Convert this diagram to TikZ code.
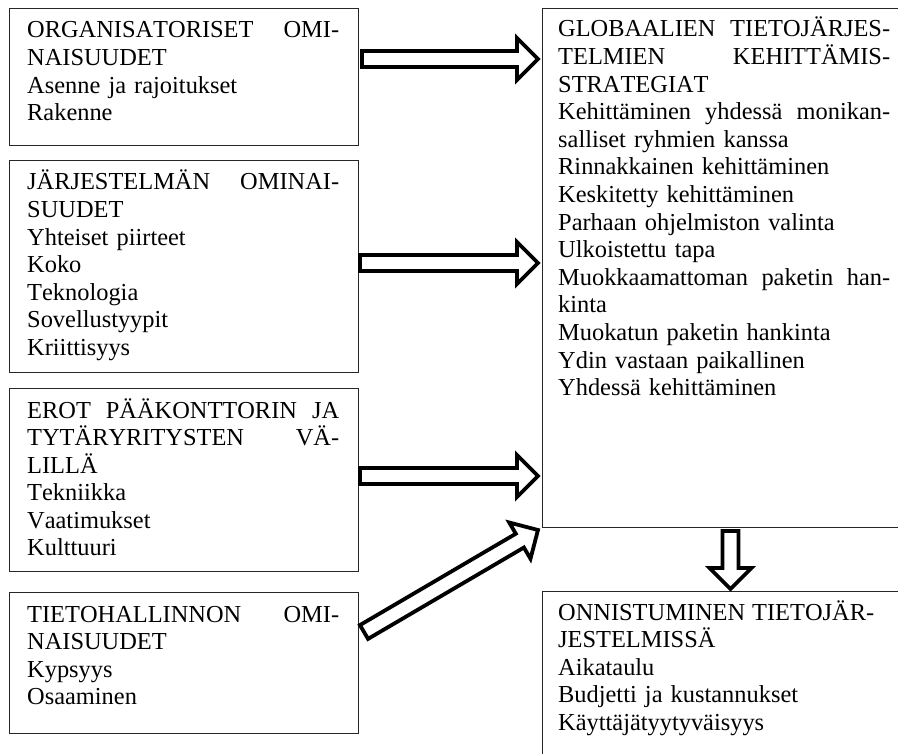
\documentclass[tikz,border=0pt]{standalone}
\usepackage{fontspec}
\setmainfont{Liberation Serif}[Kerning=Off]
\usetikzlibrary{calc}

% a line of text spread over the given column width (words split by \hfill)
\newcommand\jline[2][312pt]{\leavevmode\hbox to #1{#2}}

\tikzset{
  frame/.style={draw=black!85, line width=1pt, inner sep=0pt, anchor=north west},
  txt/.style={inner sep=0pt, anchor=base west, align=left,
              font=\fontsize{24.4}{27.6}\selectfont},
  fat/.style={draw=black, fill=white, line width=3.8pt, line join=miter},
}

% outlined block arrow from #1 to #2 (shaft half width 8, head 21 x 21)
\newcommand\fatarrow[2]{%
  \draw[fat] let \p1=(#1), \p2=(#2),
      \n1={atan2(\y2-\y1,\x2-\x1)}, \n2={veclen(\x2-\x1,\y2-\y1)} in
    ([shift={(\p1)},rotate=\n1]0pt,8pt)
    -- ([shift={(\p1)},rotate=\n1]\n2*1pt-21pt,8pt)
    -- ([shift={(\p1)},rotate=\n1]\n2*1pt-21pt,21pt)
    -- ([shift={(\p1)},rotate=\n1]\n2*1pt,0pt)
    -- ([shift={(\p1)},rotate=\n1]\n2*1pt-21pt,-21pt)
    -- ([shift={(\p1)},rotate=\n1]\n2*1pt-21pt,-8pt)
    -- ([shift={(\p1)},rotate=\n1]0pt,-8pt)
    -- cycle;}

\begin{document}
\begin{tikzpicture}[x=1pt,y=1pt]
\useasboundingbox (0,0) rectangle (898,-754);
\clip (0,0) rectangle (898,-754);
\fill[white] (0,0) rectangle (898,-754);

% left column of factor boxes
\node[frame, minimum width=349pt, minimum height=137pt] (org) at (9,-8) {};
\node[frame, minimum width=349pt, minimum height=212pt] (sys) at (9,-160) {};
\node[frame, minimum width=349pt, minimum height=183pt] (diff) at (9,-388) {};
\node[frame, minimum width=349pt, minimum height=141pt] (ict) at (9,-592) {};

% right column: strategies and success
\node[frame, minimum width=366pt, minimum height=519pt] (strat) at (542,-8) {};
\node[frame, minimum width=366pt, minimum height=180pt] (succ) at (542,-591) {};

% texts
\node[txt, text width=312pt] (orgt) at (27,-38) {%
  \jline{ORGANISATORISET\hfill OMI-}\\
  NAISUUDET\\
  Asenne ja rajoitukset\\
  Rakenne};
\node[txt, text width=312pt] (syst) at (27,-190) {%
  \jline{JÄRJESTELMÄN\hfill OMINAI-}\\
  SUUDET\\
  Yhteiset piirteet\\
  Koko\\
  Teknologia\\
  Sovellustyypit\\
  Kriittisyys};
\node[txt, text width=312pt] (difft) at (27,-418) {%
  \jline{EROT\hfill PÄÄKONTTORIN\hfill JA}\\
  \jline{TYTÄRYRITYSTEN\hfill VÄ-}\\
  LILLÄ\\
  Tekniikka\\
  Vaatimukset\\
  Kulttuuri};
\node[txt, text width=312pt] (ictt) at (27,-622) {%
  \jline{TIETOHALLINNON\hfill OMI-}\\
  NAISUUDET\\
  Kypsyys\\
  Osaaminen};
\node[txt, text width=332pt] (stratt) at (558,-37) {%
  \jline[332pt]{GLOBAALIEN\hfill TIETOJÄRJES-}\\
  \jline[332pt]{TELMIEN\hfill KEHITTÄMIS-}\\
  STRATEGIAT\\
  \jline[332pt]{Kehittäminen\hfill yhdessä\hfill monikan-}\\
  salliset ryhmien kanssa\\
  Rinnakkainen kehittäminen\\
  Keskitetty kehittäminen\\
  Parhaan ohjelmiston valinta\\
  Ulkoistettu tapa\\
  \jline[332pt]{Muokkaamattoman\hfill paketin\hfill han-}\\
  kinta\\
  Muokatun paketin hankinta\\
  Ydin vastaan paikallinen\\
  Yhdessä kehittäminen};
\node[txt, text width=316pt] (succt) at (558,-620) {%
  \jline[316pt]{ONNISTUMINEN\hfill TIETOJÄR-}\\
  JESTELMISSÄ\\
  Aikataulu\\
  Budjetti ja kustannukset\\
  Käyttäjätyytyväisyys};

% arrow end points
\coordinate (a1s) at (362,-59);   \coordinate (a1e) at (538,-59);
\coordinate (a2s) at (360,-263);  \coordinate (a2e) at (538,-263);
\coordinate (a3s) at (360,-476);  \coordinate (a3e) at (538,-476);
\coordinate (a4s) at (364,-632);  \coordinate (a4e) at (538,-530);
\coordinate (a5s) at (730.5,-531); \coordinate (a5e) at (730.5,-589);

\fatarrow{a1s}{a1e}
\fatarrow{a2s}{a2e}
\fatarrow{a3s}{a3e}
\fatarrow{a4s}{a4e}
\fatarrow{a5s}{a5e}
\end{tikzpicture}
\end{document}
